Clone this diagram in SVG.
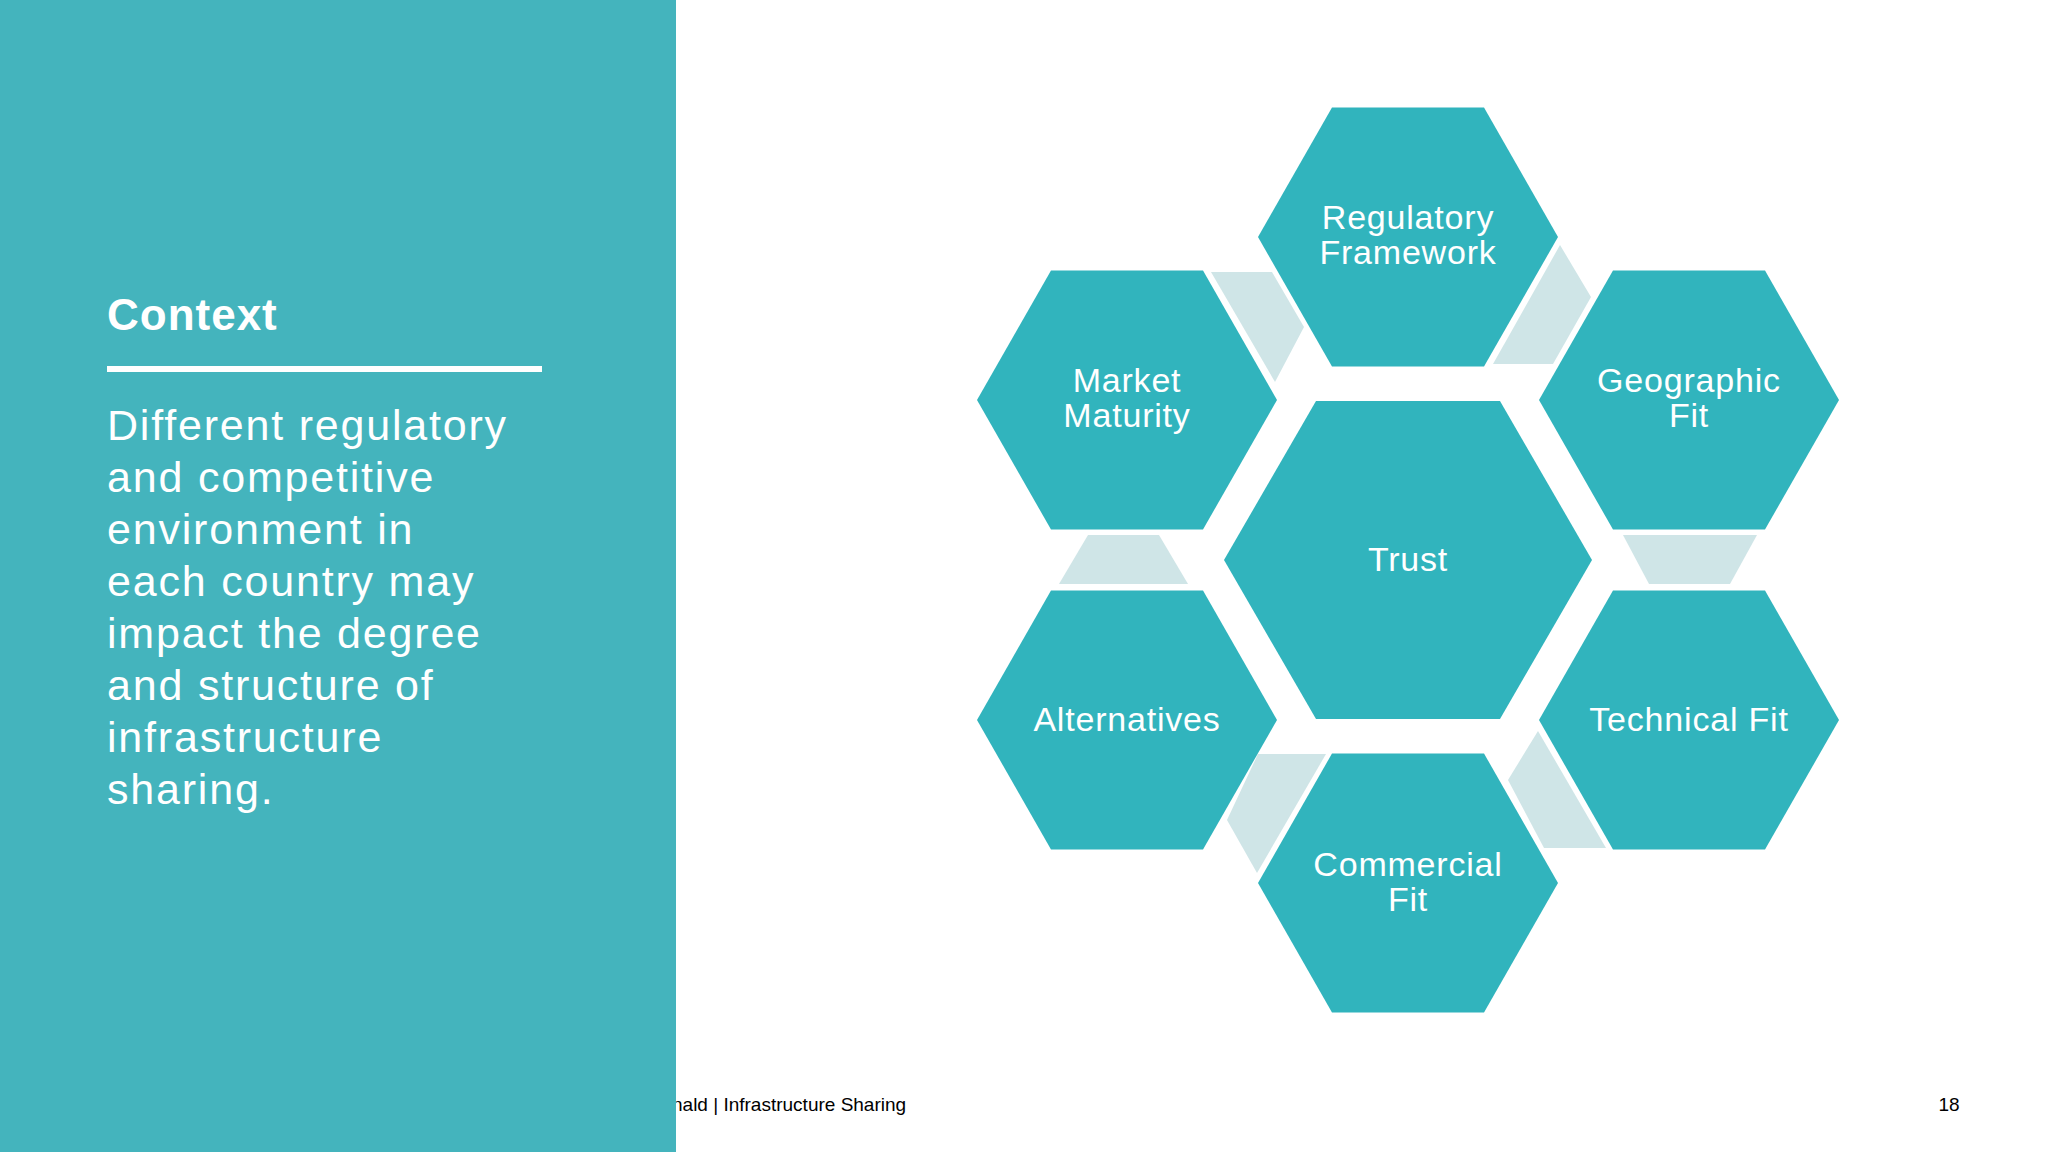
<svg xmlns="http://www.w3.org/2000/svg" width="2048" height="1152" viewBox="0 0 2048 1152">
<style>
.hex{fill:#31b4bd}
.lbl{fill:#fff;font-family:"Liberation Sans",Arial,sans-serif;font-size:34px;text-anchor:middle;letter-spacing:0.8px}
.con{fill:#cfe5e7}
.body{fill:#fff;font-family:"Liberation Sans",Arial,sans-serif;font-size:43px;letter-spacing:1.8px}
.foot{fill:#000;font-family:"Liberation Sans",Arial,sans-serif;font-size:19px}
</style>
<defs>
<polygon id="h" points="-150,0 -76,-129.5 76,-129.5 150,0 76,129.5 -76,129.5"/>
</defs>
<rect width="2048" height="1152" fill="#fff"/>
<text class="foot" x="672" y="1111">nald | Infrastructure Sharing</text>
<text class="foot" x="1949" y="1111" text-anchor="middle">18</text>
<rect id="panel" x="0" y="0" width="676" height="1152" fill="#44b4bd"/>
<g id="context">
<text x="107" y="330" fill="#fff" font-family="Liberation Sans,Arial,sans-serif" font-weight="bold" font-size="44" letter-spacing="1">Context</text>
<rect x="107" y="366" width="435" height="6" fill="#fff"/>
<text class="body" y="440"><tspan x="107">Different regulatory</tspan><tspan x="107" dy="52">and competitive</tspan><tspan x="107" dy="52">environment in</tspan><tspan x="107" dy="52">each country may</tspan><tspan x="107" dy="52">impact the degree</tspan><tspan x="107" dy="52">and structure of</tspan><tspan x="107" dy="52">infrastructure</tspan><tspan x="107" dy="52">sharing.</tspan></text>
</g>
<g id="connectors">
<polygon class="con" points="1211,272 1272,272 1304,327 1275,382"/>
<polygon class="con" points="1560,245 1591,297 1553,364 1493,364"/>
<polygon class="con" points="1623,535 1757,535 1730,584 1649,584"/>
<polygon class="con" points="1538,731 1606,848 1544,848 1508,780"/>
<polygon class="con" points="1258,754 1326,754 1257,873 1227,820"/>
<polygon class="con" points="1088,535 1159,535 1188,584 1059,584"/>
</g>
<g id="regulatory"><use href="#h" class="hex" x="1408" y="237"/><text class="lbl" x="1408" y="229">Regulatory</text><text class="lbl" x="1408" y="264">Framework</text></g>
<g id="market"><use href="#h" class="hex" x="1127" y="400"/><text class="lbl" x="1127" y="392">Market</text><text class="lbl" x="1127" y="427">Maturity</text></g>
<g id="geographic"><use href="#h" class="hex" x="1689" y="400"/><text class="lbl" x="1689" y="392">Geographic</text><text class="lbl" x="1689" y="427">Fit</text></g>
<g id="trust"><polygon class="hex" points="1224,560 1316,401 1500,401 1592,560 1500,719 1316,719"/><text class="lbl" x="1408" y="571">Trust</text></g>
<g id="alternatives"><use href="#h" class="hex" x="1127" y="720"/><text class="lbl" x="1127" y="731">Alternatives</text></g>
<g id="technical"><use href="#h" class="hex" x="1689" y="720"/><text class="lbl" x="1689" y="731">Technical Fit</text></g>
<g id="commercial"><use href="#h" class="hex" x="1408" y="883"/><text class="lbl" x="1408" y="876">Commercial</text><text class="lbl" x="1408" y="911">Fit</text></g>
</svg>
